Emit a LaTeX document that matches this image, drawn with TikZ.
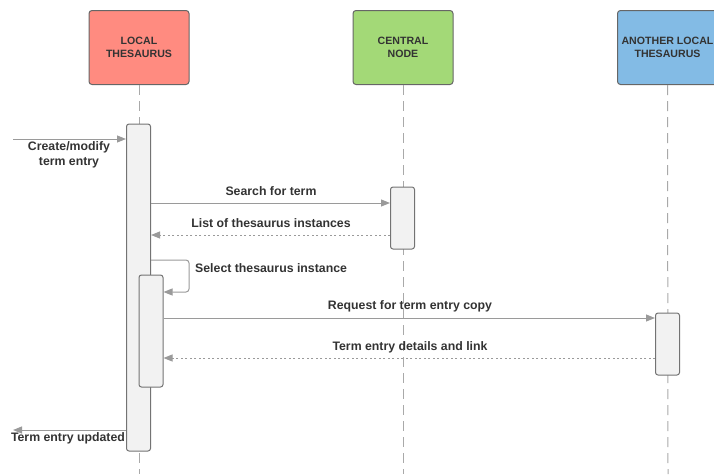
\documentclass[tikz,border=0pt]{standalone}
\usepackage{fontspec}
\setmainfont{Liberation Sans}
\usetikzlibrary{arrows.meta}
\definecolor{localred}{HTML}{FF8B80}
\definecolor{centralgreen}{HTML}{A3D977}
\definecolor{anotherblue}{HTML}{83BBE5}
\definecolor{actfill}{HTML}{F2F2F2}
\definecolor{txt}{HTML}{333333}
\definecolor{linegray}{HTML}{9A9A9A}

\begin{document}
\begin{tikzpicture}[x=1pt,y=-1pt,
	head/.style={rectangle, rounded corners=3pt, draw=black!60, line width=1pt, minimum width=100pt, minimum height=74pt, align=center, text=txt, font=\fontsize{10.6}{12.5}\selectfont\bfseries},
	act/.style={rectangle, rounded corners=2.5pt, draw=black!55, line width=1pt, fill=actfill, minimum width=24pt, anchor=north},
	life/.style={draw=linegray!85, line width=1pt, dash pattern=on 10pt off 6pt},
	msg/.style={draw=linegray, line width=1pt, -{Triangle[length=9pt,width=7pt]}},
	ret/.style={msg, dash pattern=on 2pt off 2.5pt},
	lbl/.style={inner sep=0pt, align=center, text=txt, font=\fontsize{12.3}{15}\selectfont\bfseries}]
	\useasboundingbox (0,0) rectangle (714,474);
	\clip (0,0) rectangle (714,474);
	
	\node[head, fill=localred] at (139,47.5) (local) {LOCAL\\THESAURUS};
	\node[head, fill=centralgreen] at (403,47.5) (central) {CENTRAL\\NODE};
	\node[head, fill=anotherblue] at (667.5,47.5) (another) {ANOTHER LOCAL\\THESAURUS};
	
	\coordinate (local_end) at (139,474);
	\coordinate (central_end) at (403,474);
	\coordinate (another_end) at (668,474);
	\draw[life] (local.south)--(local_end);
	\draw[life] (central.south)--(central_end);
	\draw[life] (another.south)--(another_end);
	
	\node[act, minimum height=327pt] at (138.5,123.5) (actL) {};
	\node[act, minimum height=112pt] at (151,274.5) (actL_2) {};
	\node[act, minimum height=62pt] at (402.5,186.5) (actC) {};
	\node[act, minimum height=62pt] at (667.5,312.5) (actA) {};
	
	% incoming and outgoing
	\coordinate (start) at (13,139);
	\coordinate (finish) at (13,430);
	\draw[msg] (start)--(actL.west |- start);
	\node[lbl, anchor=north] at (69,141.5) (create) {Create/modify\\term entry};
	\draw[msg] (actL.west |- finish)--(finish);
	\node[lbl] at (68,438) (updated) {Term entry updated};
	
	% central node
	\node[lbl] at (271,191) (search) {Search for term};
	\draw[msg] (actL.east |- 0,203)--(actC.west |- 0,203);
	\node[lbl] at (271,223) (list) {List of thesaurus instances};
	\draw[ret] (actC.west |- 0,235)--(actL.east |- 0,235);
	
	% self call
	\coordinate (turn) at (189,276);
	\node[lbl, anchor=west] at (195,268) (select) {Select thesaurus instance};
	\draw[msg, rounded corners=3pt] (actL.east |- 0,260) -| (turn) |- (actL_2.east |- 0,292);
	
	% another local thesaurus
	\node[lbl] at (410,306) (request) {Request for term entry copy};
	\draw[msg] (actL_2.east |- 0,318)--(actA.west |- 0,318);
	\node[lbl] at (410,347) (details) {Term entry details and link};
	\draw[ret] (actA.west |- 0,358)--(actL_2.east |- 0,358);
\end{tikzpicture}
\end{document}
